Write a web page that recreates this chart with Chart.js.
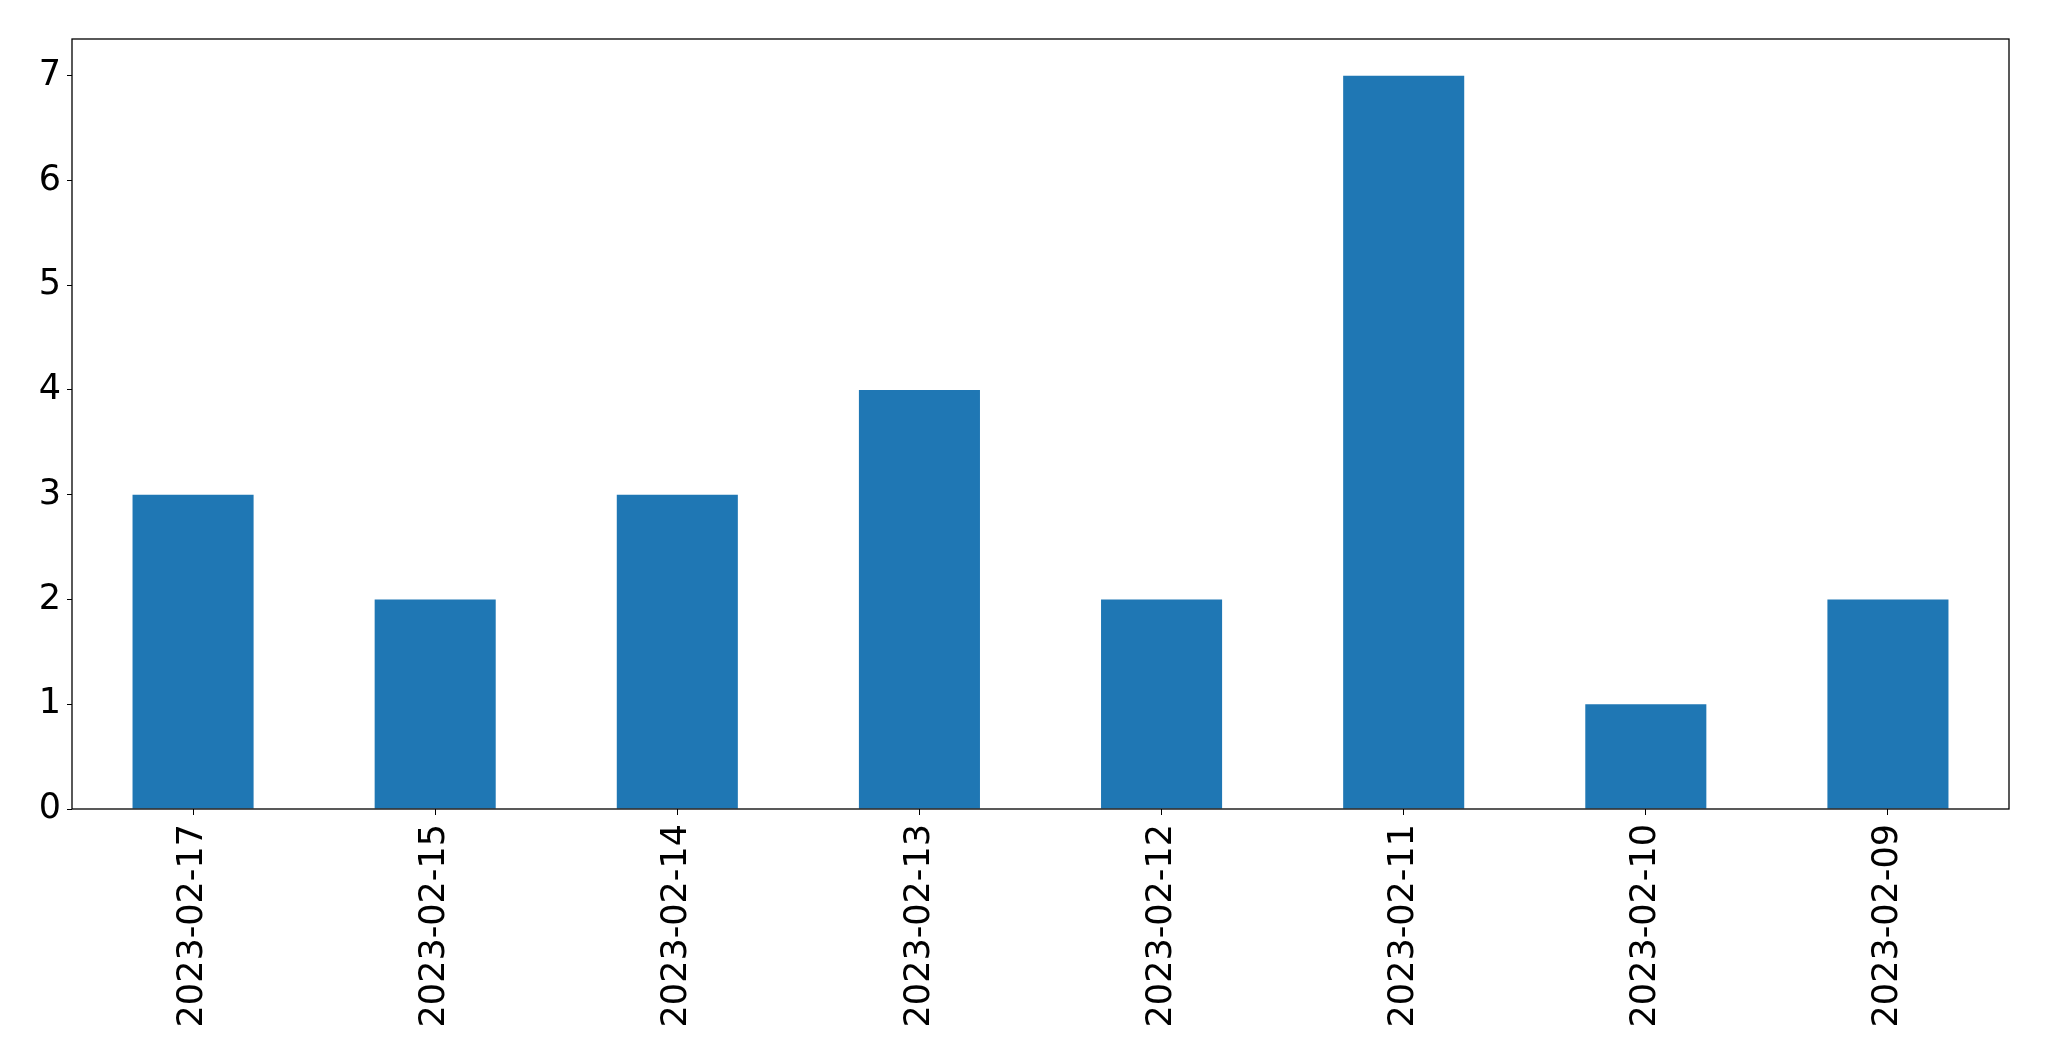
<!DOCTYPE html>
<html>
<head>
<meta charset="utf-8">
<script src="https://cdn.jsdelivr.net/npm/chart.js@4.4.0/dist/chart.umd.min.js"></script>
<style>
  body { margin: 0; background: #ffffff; }
  #wrap { width: 2049px; height: 1061px; }
</style>
</head>
<body>
<div id="wrap"><canvas id="chart-area" width="2049" height="1061"></canvas></div>
<script>
var dates = ['2023-02-17', '2023-02-15', '2023-02-14', '2023-02-13', '2023-02-12', '2023-02-11', '2023-02-10', '2023-02-09'];
var counts = [3, 2, 3, 4, 2, 7, 1, 2];
var yTicks = [0, 1, 2, 3, 4, 5, 6, 7];

// box around the plot area, like the matplotlib axes frame
var frame = {
    id: 'frame',
    afterDraw: function (chart) {
        var a = chart.chartArea, ctx = chart.ctx;
        ctx.save();
        ctx.strokeStyle = '#000000';
        ctx.lineWidth = 1.3;
        ctx.strokeRect(a.left, a.top, a.right - a.left, a.bottom - a.top);
        ctx.restore();
    }
};

var config = {
    type: 'bar',
    data: {
        labels: dates,
        datasets: [{
            data: counts,
            backgroundColor: '#1f77b4',
            borderWidth: 0,
            barPercentage: 0.5,
            categoryPercentage: 1.0
        }]
    },
    options: {
        responsive: false,
        animation: false,
        layout: { padding: { top: 39, right: 40, left: 0, bottom: 0 } },
        plugins: {
            legend: { display: false },
            tooltip: { enabled: false }
        },
        scales: {
            x: {
                offset: true,
                grid: { drawOnChartArea: false, drawTicks: true, tickLength: 6, color: '#000000', offset: false },
                border: { display: false },
                ticks: {
                    color: '#000000',
                    font: { family: 'DejaVu Sans', size: 35 },
                    maxRotation: 90,
                    minRotation: 90,
                    padding: 9,
                    autoSkip: false
                },
                afterFit: function (scale) { scale.height = 252; }
            },
            y: {
                min: 0,
                max: 7.35,
                grid: { drawOnChartArea: false, drawTicks: true, tickLength: 5, color: '#000000' },
                border: { display: false },
                ticks: {
                    color: '#000000',
                    font: { family: 'DejaVu Sans', size: 35 },
                    padding: 6
                },
                afterBuildTicks: function (scale) {
                    scale.ticks = yTicks.map(function (v) { return { value: v }; });
                },
                afterFit: function (scale) { scale.width = 72; }
            }
        }
    },
    plugins: [frame]
};

var ctx = document.getElementById('chart-area').getContext('2d');
window.myBar = new Chart(ctx, config);
</script>
</body>
</html>
